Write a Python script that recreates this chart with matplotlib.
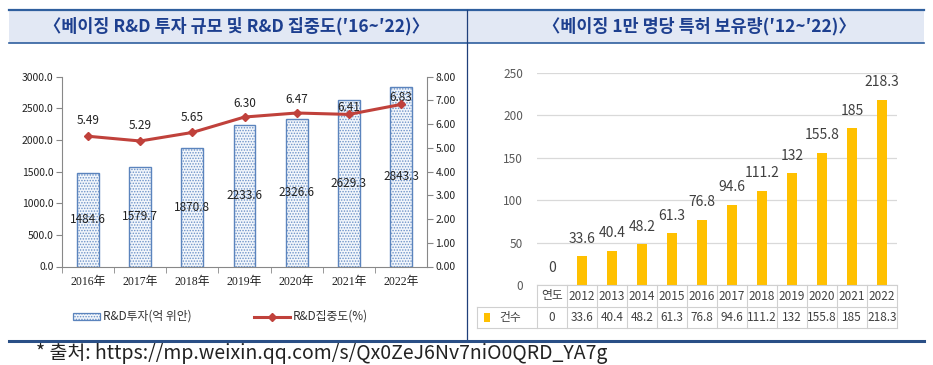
import matplotlib
matplotlib.use('Agg')
import matplotlib.pyplot as plt
import matplotlib.transforms as mtransforms
from matplotlib.patches import Rectangle
from matplotlib.lines import Line2D

plt.rcParams['font.family'] = ['Noto Sans CJK KR', 'DejaVu Sans']
plt.rcParams['hatch.linewidth'] = 0.7

# --- data: left panel (Beijing R&D) ---
rd_years = ['2016年', '2017年', '2018年', '2019年', '2020年', '2021年', '2022年']
rd_invest = [1484.6, 1579.7, 1870.8, 2233.6, 2326.6, 2629.3, 2843.3]
rd_intensity = [5.49, 5.29, 5.65, 6.30, 6.47, 6.41, 6.83]

# --- data: right panel (patents per 10k people) ---
pat_years = ['연도', '2012', '2013', '2014', '2015', '2016', '2017', '2018',
             '2019', '2020', '2021', '2022']
pat_values = [0, 33.6, 40.4, 48.2, 61.3, 76.8, 94.6, 111.2, 132, 155.8, 185, 218.3]
pat_labels = ['0', '33.6', '40.4', '48.2', '61.3', '76.8', '94.6', '111.2',
              '132', '155.8', '185', '218.3']

W, H = 933, 365
fig = plt.figure(figsize=(W / 100, H / 100), dpi=100)
fig.patch.set_facecolor('white')


def rect(x0, y0, x1, y1):
    # pixel box (top-left origin) -> figure fraction
    return [x0 / W, 1 - y1 / H, (x1 - x0) / W, (y1 - y0) / H]


def fx(x):
    return x / W


def fy(y):
    return 1 - y / H


# ---- header band and frame lines ----
blue_line = '#2f5f9e'
fig.patches.append(Rectangle((fx(9), fy(42.5)), fx(924) - fx(9), fy(9.5) - fy(42.5),
                             transform=fig.transFigure, facecolor='#e2e8f4',
                             edgecolor='none', zorder=0))
fig.add_artist(Line2D([fx(9), fx(924)], [fy(9.5), fy(9.5)], color=blue_line, lw=1.6))
fig.add_artist(Line2D([fx(9), fx(924)], [fy(42.5), fy(42.5)], color=blue_line, lw=1.2))
fig.add_artist(Line2D([fx(467), fx(467)], [fy(9.5), fy(340)], color='#1f3f7a', lw=0.9))
fig.add_artist(Line2D([fx(9), fx(924)], [fy(341), fy(341)], color='#2a4f86', lw=2.2))

title_color = '#1d3f8f'
fig.text(fx(236), fy(26), "〈베이징 R&D 투자 규모 및 R&D 집중도(′16~′22)〉", ha='center',
         va='center', fontsize=12.5, color=title_color, fontweight='bold')
fig.text(fx(699), fy(26), "〈베이징 1만 명당 특허 보유량(′12~′22)〉", ha='center',
         va='center', fontsize=12.5, color=title_color, fontweight='bold')

fig.text(fx(36), fy(353), "* 출처: https://mp.weixin.qq.com/s/Qx0ZeJ6Nv7niO0QRD_YA7g",
         ha='left', va='center', fontsize=14, color='#222222')

# ---- left chart ----
ax1 = fig.add_axes(rect(62, 76.7, 427, 266.5))
ax1.set_facecolor('none')
x1 = list(range(len(rd_years)))
bars = ax1.bar(x1, rd_invest, width=0.42, facecolor='#f2f6fb', edgecolor='#5b84bd',
               linewidth=1.0, hatch='......', zorder=2)
for b in bars:
    b._hatch_color = (0.42, 0.57, 0.78, 1)
ax1.set_xlim(-0.5, len(rd_years) - 0.5)
ax1.set_ylim(0, 3000)
ax1.set_yticks(range(0, 3001, 500))
ax1.set_yticklabels([f'{v:.1f}' for v in range(0, 3001, 500)])
ax1.set_xticks(x1)
ax1.set_xticklabels(rd_years)
for lbl in ax1.get_xticklabels():
    lbl.set_family(['Liberation Serif', 'Noto Sans CJK KR'])
ax1.set_xticks([i + 0.5 for i in x1[:-1]] + [-0.5], minor=True)
ax1.tick_params(axis='x', which='major', length=0, pad=7, labelsize=8.5, colors='#222222')
ax1.tick_params(axis='x', which='minor', length=4, color='#888888')
ax1.tick_params(axis='y', length=4, color='#888888', labelsize=7.5, labelcolor='#222222', pad=2)
for s in ['top', 'right']:
    ax1.spines[s].set_visible(False)
for s in ['left', 'bottom']:
    ax1.spines[s].set_color('#888888')
for i, v in enumerate(rd_invest):
    ax1.text(i, v / 2, f'{v:.1f}', ha='center', va='center', fontsize=8.5,
             color='#222222', zorder=4)

ax1r = ax1.twinx()
ax1r.set_ylim(0, 8)
ax1r.set_yticks(range(0, 9))
ax1r.set_yticklabels([f'{v:.2f}' for v in range(0, 9)])
ax1r.tick_params(axis='y', length=4, color='#888888', labelsize=7.5, labelcolor='#222222', pad=2)
for s in ['top', 'left', 'bottom']:
    ax1r.spines[s].set_visible(False)
ax1r.spines['right'].set_color('#888888')
line_color = '#c0413b'
ax1r.plot(x1, rd_intensity, color=line_color, lw=2.2, marker='D', markersize=4.5, zorder=5)
label_gap = [11, 11, 11, 10, 10, 5, 5]
for i, v in enumerate(rd_intensity):
    ax1r.annotate(f'{v:.2f}', (i, v), xytext=(0, label_gap[i]), textcoords='offset points',
                  ha='center', va='center', fontsize=8.5, color='#222222')

# left legend
lax = fig.add_axes(rect(62, 305, 460, 330))
lax.axis('off')
lax.set_xlim(62, 460)
lax.set_ylim(330, 305)
leg_patch = Rectangle((73, 313), 27, 7, facecolor='#f2f6fb', edgecolor='#5b84bd',
                      lw=0.9, hatch='......')
lax.add_patch(leg_patch)
leg_patch._hatch_color = (0.42, 0.57, 0.78, 1)
lax.text(103, 316.5, 'R&D투자(억 위안)', ha='left', va='center', fontsize=8.5, color='#333333')
lax.plot([254, 290], [316.5, 316.5], color=line_color, lw=2.2)
lax.plot([272], [316.5], marker='D', color=line_color, markersize=4.5)
lax.text(293, 316.5, 'R&D집중도(%)', ha='left', va='center', fontsize=8.5, color='#333333')

# ---- right chart ----
ax2 = fig.add_axes(rect(537, 72.7, 897, 285))
x2 = list(range(len(pat_years)))
ax2.bar(x2, pat_values, width=0.34, color='#ffc000', zorder=2)
ax2.set_xlim(-0.5, len(pat_years) - 0.5)
ax2.set_ylim(0, 250)
ax2.set_yticks(range(0, 251, 50))
ax2.yaxis.grid(True, color='#d9d9d9', lw=0.9)
ax2.set_axisbelow(True)
ax2.tick_params(axis='y', length=0, labelsize=8.5, labelcolor='#595959', pad=10)
ax2.set_xticks([])
for s in ['top', 'right', 'left', 'bottom']:
    ax2.spines[s].set_visible(False)
for i, v in enumerate(pat_values):
    ax2.annotate(pat_labels[i], (i, v), xytext=(0, 12.5), textcoords='offset points',
                 ha='center', va='center', fontsize=10, color='#404040')

# data table under the right chart (x in categories, y in axes fraction)
tr = mtransforms.blended_transform_factory(ax2.transData, ax2.transAxes)
ph = 212.3  # axes height in px
r1, r2 = -22 / ph, -43 / ph
grid_kw = dict(color='#d0d0d0', lw=0.8, transform=tr, clip_on=False)
n = len(pat_years)
ax2.plot([-0.5, n - 0.5], [0, 0], **grid_kw)
ax2.plot([-2.5, n - 0.5], [r1, r1], **grid_kw)
ax2.plot([-2.5, n - 0.5], [r2, r2], **grid_kw)
for k in range(n + 1):
    ax2.plot([k - 0.5, k - 0.5], [0, r2], **grid_kw)
ax2.plot([-2.5, -2.5], [r1, r2], **grid_kw)
for i in x2:
    ax2.text(i, r1 / 2, pat_years[i], transform=tr, ha='center', va='center',
             fontsize=8.5, color='#404040')
    ax2.text(i, (r1 + r2) / 2, pat_labels[i], transform=tr, ha='center', va='center',
             fontsize=8.5, color='#404040')
ax2.text(-1.4, (r1 + r2) / 2, '건수', transform=tr, ha='center', va='center',
         fontsize=8.5, color='#404040')
ax2.add_patch(Rectangle((-2.27, (r1 + r2) / 2 - 4.5 / ph), 0.2, 9 / ph,
                        facecolor='#ffc000', edgecolor='none', transform=tr, clip_on=False))

fig.savefig('out.png', dpi=100, facecolor='white')
